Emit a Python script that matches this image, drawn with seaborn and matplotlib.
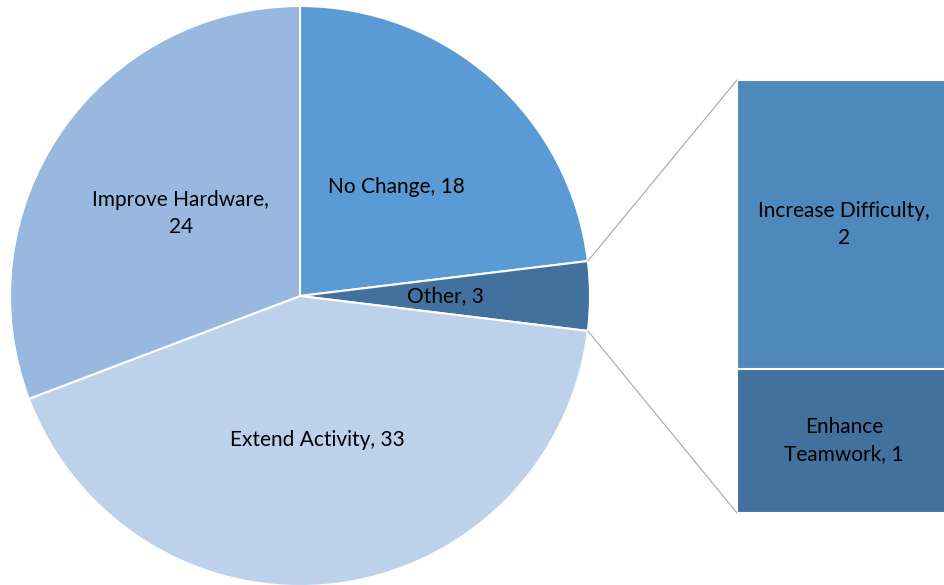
import numpy as np
import matplotlib
matplotlib.use("Agg")
import matplotlib.pyplot as plt
import seaborn as sns
import pandas as pd

# Main pie categories
pie_labels = ["No Change", "Other", "Extend Activity", "Improve Hardware"]
pie_values = [18, 3, 33, 24]
pie_colors = ["#5B9BD5", "#41719C", "#BDD1EA", "#98B8DF"]

# Breakdown of "Other"
bar_labels = ["Increase Difficulty", "Enhance Teamwork"]
bar_values = [2, 1]
bar_colors = ["#4F88BB", "#41719C"]

sns.set_theme(style="white")
plt.rcParams["font.family"] = ["Lato", "DejaVu Sans"]
plt.rcParams["text.color"] = "black"

FS = 15
LS = 1.45

W, H = 944, 585
fig = plt.figure(figsize=(W / 100, H / 100), dpi=100)
ax = fig.add_axes([0, 0, 1, 1])
ax.set_xlim(0, W)
ax.set_ylim(0, H)
ax.set_aspect("equal")
ax.axis("off")

cx, cy, r = 300, 289, 290
total = sum(pie_values)

texts_for_pie = []
for lab, v in zip(pie_labels, pie_values):
    if lab == "Improve Hardware":
        texts_for_pie.append(f"{lab},\n{v}")
    else:
        texts_for_pie.append(f"{lab}, {v}")

wedges, texts = ax.pie(
    pie_values, labels=texts_for_pie, colors=pie_colors, startangle=90,
    counterclock=False, center=(cx, cy), radius=r, labeldistance=0.5,
    wedgeprops=dict(edgecolor="white", linewidth=1.5),
    textprops=dict(fontsize=FS, color="black"),
)
for t in texts:
    t.set_ha("center")
    t.set_va("center")
    t.set_multialignment("center")
    t.set_linespacing(LS)
ax.set_xlim(0, W)
ax.set_ylim(0, H)

# Stacked bar showing the breakdown of "Other"
bx0, by0, bw, bh = 737, 72, 214, 433
bax = fig.add_axes([bx0 / W, by0 / H, bw / W, bh / H])
bar_df = pd.DataFrame({
    "cat": ["Other", "Other"],
    "cum": [sum(bar_values), bar_values[1]],
})
sns.barplot(data=bar_df.iloc[[0]], x="cat", y="cum", color=bar_colors[0],
            saturation=1, width=1.0, ax=bax, edgecolor="white", linewidth=1.5)
sns.barplot(data=bar_df.iloc[[1]], x="cat", y="cum", color=bar_colors[1],
            saturation=1, width=1.0, ax=bax, edgecolor="white", linewidth=1.5)
bax.set_xlim(-0.5, 0.5)
bax.set_ylim(0, sum(bar_values))
bax.axis("off")
bax.text(0, bar_values[1] + bar_values[0] / 2,
         f"{bar_labels[0]},\n{bar_values[0]}", ha="center", va="center",
         fontsize=FS, color="black", multialignment="center", linespacing=LS)
bax.text(0, bar_values[1] / 2,
         "Enhance\nTeamwork, " + str(bar_values[1]), ha="center", va="center",
         fontsize=FS, color="black", multialignment="center", linespacing=LS)

# Connector lines from the "Other" slice to the bar
half = np.deg2rad(360 * pie_values[1] / total / 2)
p_top = (cx + r * np.cos(half), cy + r * np.sin(half))
p_bot = (cx + r * np.cos(half), cy - r * np.sin(half))
ax.plot([p_top[0], bx0], [p_top[1], by0 + bh], color="#A6A6A6", lw=0.8)
ax.plot([p_bot[0], bx0], [p_bot[1], by0], color="#A6A6A6", lw=0.8)

fig.savefig("out.png", dpi=100, facecolor="white")
